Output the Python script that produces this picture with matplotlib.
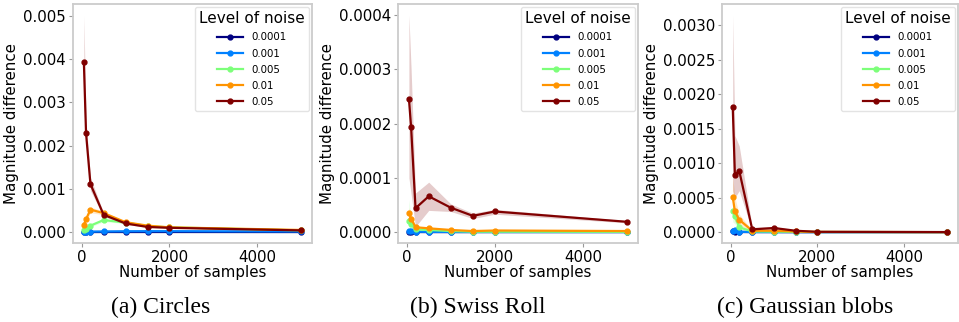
import numpy as np
import matplotlib
matplotlib.use("Agg")
import matplotlib.pyplot as plt
from matplotlib.ticker import FormatStrFormatter

samples = [50, 100, 200, 500, 1000, 1500, 2000, 5000]
noise_levels = ["0.0001", "0.001", "0.005", "0.01", "0.05"]

# Circles
circ_mean = {
    "0.0001": [0.000003, 0.000002, 0.000002, 0.000003, 0.000003, 0.000003, 0.000003, 0.000002],
    "0.001":  [0.000010, 0.000010, 0.000012, 0.000015, 0.000020, 0.000022, 0.000022, 0.000015],
    "0.005":  [0.000040, 0.000070, 0.000150, 0.000280, 0.000220, 0.000140, 0.000110, 0.000040],
    "0.01":   [0.000170, 0.000300, 0.000520, 0.000440, 0.000230, 0.000150, 0.000110, 0.000050],
    "0.05":   [0.003930, 0.002280, 0.001110, 0.000400, 0.000200, 0.000120, 0.000100, 0.000040],
}
circ_lo = {
    "0.0001": [0.0, 0.0, 0.0, 0.000001, 0.000001, 0.000001, 0.000001, 0.000001],
    "0.001":  [0.000005, 0.000005, 0.000008, 0.000010, 0.000015, 0.000017, 0.000018, 0.000012],
    "0.005":  [0.000020, 0.000050, 0.000120, 0.000240, 0.000200, 0.000130, 0.000100, 0.000035],
    "0.01":   [0.000120, 0.000240, 0.000450, 0.000400, 0.000210, 0.000140, 0.000100, 0.000045],
    "0.05":   [0.002900, 0.002050, 0.000960, 0.000360, 0.000180, 0.000110, 0.000090, 0.000035],
}
circ_hi = {
    "0.0001": [0.000006, 0.000005, 0.000004, 0.000005, 0.000005, 0.000005, 0.000005, 0.000004],
    "0.001":  [0.000015, 0.000015, 0.000016, 0.000020, 0.000025, 0.000027, 0.000027, 0.000018],
    "0.005":  [0.000060, 0.000090, 0.000180, 0.000320, 0.000240, 0.000150, 0.000120, 0.000045],
    "0.01":   [0.000220, 0.000360, 0.000580, 0.000480, 0.000250, 0.000160, 0.000120, 0.000055],
    "0.05":   [0.005020, 0.002550, 0.001260, 0.000440, 0.000220, 0.000130, 0.000110, 0.000045],
}

# Swiss Roll
swiss_mean = {
    "0.0001": [0.0000002, 0.0000002, 0.0000002, 0.0000001, 0.0000001, 0.0000001, 0.0000001, 0.0000001],
    "0.001":  [0.0000020, 0.0000015, 0.0000008, 0.0000005, 0.0000004, 0.0000003, 0.0000003, 0.0000002],
    "0.005":  [0.0000200, 0.0000150, 0.0000050, 0.0000040, 0.0000020, 0.0000008, 0.0000008, 0.0000005],
    "0.01":   [0.0000350, 0.0000250, 0.0000090, 0.0000070, 0.0000040, 0.0000020, 0.0000030, 0.0000020],
    "0.05":   [0.0002460, 0.0001930, 0.0000440, 0.0000660, 0.0000450, 0.0000300, 0.0000380, 0.0000190],
}
swiss_lo = {
    "0.0001": [0.0, 0.0, 0.0, 0.0, 0.0, 0.0, 0.0, 0.0],
    "0.001":  [0.0000005, 0.0000005, 0.0000004, 0.0000003, 0.0000002, 0.0000002, 0.0000002, 0.0000001],
    "0.005":  [0.0000050, 0.0000080, 0.0000030, 0.0000030, 0.0000015, 0.0000005, 0.0000005, 0.0000003],
    "0.01":   [0.0000250, 0.0000150, 0.0000070, 0.0000060, 0.0000035, 0.0000015, 0.0000025, 0.0000015],
    "0.05":   [0.0001000, 0.0000700, 0.0000100, 0.0000400, 0.0000380, 0.0000250, 0.0000330, 0.0000170],
}
swiss_hi = {
    "0.0001": [0.0000005, 0.0000005, 0.0000004, 0.0000002, 0.0000002, 0.0000002, 0.0000002, 0.0000002],
    "0.001":  [0.0000040, 0.0000030, 0.0000012, 0.0000008, 0.0000006, 0.0000004, 0.0000004, 0.0000003],
    "0.005":  [0.0000600, 0.0000250, 0.0000070, 0.0000050, 0.0000025, 0.0000011, 0.0000011, 0.0000007],
    "0.01":   [0.0000450, 0.0000350, 0.0000110, 0.0000080, 0.0000045, 0.0000025, 0.0000035, 0.0000025],
    "0.05":   [0.0004000, 0.0003000, 0.0000720, 0.0000920, 0.0000520, 0.0000350, 0.0000420, 0.0000210],
}

# Gaussian blobs
blobs_mean = {
    "0.0001": [0.000010, 0.000005, 0.000002, 0.000001, 0.000001, 0.000000, 0.000000, 0.000000],
    "0.001":  [0.000020, 0.000030, 0.000005, 0.000002, 0.000001, 0.000001, 0.000000, 0.000000],
    "0.005":  [0.000300, 0.000230, 0.000070, 0.000010, 0.000008, 0.000004, 0.000002, 0.000000],
    "0.01":   [0.000510, 0.000300, 0.000180, 0.000020, 0.000020, 0.000010, 0.000003, 0.000000],
    "0.05":   [0.001820, 0.000830, 0.000890, 0.000040, 0.000060, 0.000020, 0.000005, 0.000001],
}
blobs_lo = {
    "0.0001": [0.000002, 0.000001, 0.000000, 0.000000, 0.000000, 0.000000, 0.000000, 0.000000],
    "0.001":  [0.000005, 0.000010, 0.000002, 0.000001, 0.000000, 0.000000, 0.000000, 0.000000],
    "0.005":  [0.000150, 0.000120, 0.000040, 0.000006, 0.000005, 0.000002, 0.000001, 0.000000],
    "0.01":   [0.000250, 0.000150, 0.000100, 0.000012, 0.000012, 0.000006, 0.000002, 0.000000],
    "0.05":   [0.000600, 0.000500, 0.000600, 0.000020, 0.000040, 0.000010, 0.000003, 0.000000],
}
blobs_hi = {
    "0.0001": [0.000020, 0.000010, 0.000004, 0.000002, 0.000002, 0.000001, 0.000001, 0.000000],
    "0.001":  [0.000040, 0.000060, 0.000010, 0.000004, 0.000002, 0.000002, 0.000001, 0.000000],
    "0.005":  [0.000450, 0.000350, 0.000100, 0.000015, 0.000012, 0.000006, 0.000003, 0.000001],
    "0.01":   [0.000800, 0.000500, 0.000260, 0.000030, 0.000030, 0.000015, 0.000005, 0.000001],
    "0.05":   [0.003150, 0.001400, 0.001250, 0.000070, 0.000080, 0.000030, 0.000008, 0.000002],
}

panels = [
    ("(a) Circles", circ_mean, circ_lo, circ_hi, "%.3f"),
    ("(b) Swiss Roll", swiss_mean, swiss_lo, swiss_hi, "%.4f"),
    ("(c) Gaussian blobs", blobs_mean, blobs_lo, blobs_hi, "%.4f"),
]

colors = plt.cm.jet(np.linspace(0, 1, len(noise_levels)))

W, H = 959, 322
fig = plt.figure(figsize=(W / 100, H / 100), dpi=100)

axes_px = [(73, 312), (398, 638), (722, 958)]
caption_x_px = [161, 478, 805]
top_px, bottom_px = 4, 243

for (left, right), capx, (caption, mean, lo, hi, fmt) in zip(axes_px, caption_x_px, panels):
    ax = fig.add_axes([left / W, 1 - bottom_px / H, (right - left) / W, (bottom_px - top_px) / H])
    for lvl, c in zip(noise_levels, colors):
        ax.fill_between(samples, lo[lvl], hi[lvl], color=c, alpha=0.2, linewidth=0)
        ax.plot(samples, mean[lvl], color=c, marker="o", markersize=3.5, linewidth=1.6, label=lvl)
    ax.set_xticks([0, 2000, 4000])
    ax.yaxis.set_major_formatter(FormatStrFormatter(fmt))
    ax.tick_params(labelsize=10.8, length=3, color="#999999", width=0.8, pad=2)
    for s in ax.spines.values():
        s.set_color("#cccccc")
        s.set_linewidth(1.3)
    ax.set_xlabel("Number of samples", fontsize=10.8, labelpad=0)
    ax.set_ylabel("Magnitude difference", fontsize=10.8, labelpad=3)
    leg = ax.legend(title="Level of noise", fontsize=7.4, title_fontsize=11,
                    loc="upper right", frameon=True, fancybox=True,
                    borderaxespad=0.3, handlelength=2.5, labelspacing=0.6)
    leg.get_frame().set_edgecolor("#dddddd")
    fig.text(capx / W, 1 - 313 / H, caption, ha="center", va="baseline",
             fontsize=17, family="Liberation Serif")

fig.savefig("out.png", dpi=100)
